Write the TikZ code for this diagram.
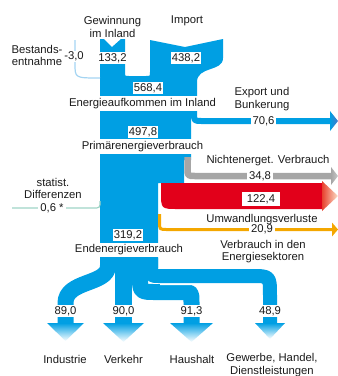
\documentclass[tikz,border=0pt]{standalone}
\usepackage{fontspec}
\setmainfont{Liberation Sans}
\definecolor{eblue}{HTML}{009FE3}
\definecolor{egray}{HTML}{A6A6A6}
\definecolor{ered}{HTML}{E2001A}
\definecolor{eorange}{HTML}{F4A700}
\definecolor{eteal}{HTML}{9ED4C6}
\definecolor{elblue}{HTML}{A4D4F2}
\definecolor{etext}{HTML}{1A1A1A}
\definecolor{ebluedark}{HTML}{4A78C8}
\definecolor{eredhead}{HTML}{E8412E}
\definecolor{epeach}{HTML}{FCE0C8}
\begin{document}
\begin{tikzpicture}[x=1pt,y=-1pt,
  lab/.style={font=\fontsize{11.3}{12.5}\selectfont, text=etext, align=center, inner sep=1pt},
  num/.style={lab, fill=white, inner sep=1pt},
  bandline/.style={line cap=butt, line join=round},
  txtband/.style={lab, fill=white, inner sep=2pt}
]
\useasboundingbox (0,0) rectangle (338,376);

% trunk
\fill[eblue] (100,39) -- (104,39) -- (112,47) -- (121,39) -- (125,39) -- (125,72)
  .. controls (125,76) .. (129,76) -- (146,76) .. controls (150,76) .. (150,72)
  -- (150,40) -- (185,47) -- (223,39) -- (223,58)
  .. controls (223,72) and (197,66) .. (197,82) -- (197,108) -- (191,108)
  -- (191,160) -- (184,160) -- (184,183) -- (158,183) -- (158,268) -- (100,268) -- cycle;

% export
\draw[eblue, line width=6, bandline] (194,100) -- (194,113) .. controls (194,121) .. (202,121) -- (331,121);
\shade[left color=eblue, right color=ebluedark] (330,111) -- (338,121) -- (330,131) -- cycle;

% non-energetic
\draw[egray, line width=6.5, bandline] (187.5,157) -- (187.5,168) .. controls (187.5,176) .. (195.5,176) -- (332,176);
\shade[left color=egray, right color=egray!60] (331,167) -- (338,176) -- (331,185) -- cycle;

% conversion losses
\fill[ered] (161,183) -- (323,183) -- (323,209) -- (178,209) .. controls (161,209) .. (161,192) -- cycle;
\shade[left color=eredhead, right color=epeach] (322,181) -- (338,196) -- (322,211) -- cycle;

% energy sector
\draw[eorange, line width=3, bandline] (159.5,214) -- (159.5,222) .. controls (159.5,229.5) .. (167,229.5) -- (333,229.5);
\fill[eorange] (332,222.5) -- (338,229.5) -- (332,236.5) -- cycle;

% statistical differences and stock withdrawal
\draw[eteal, line width=1.2] (12,208) -- (93,208) .. controls (100,208) .. (100,201);
\draw[elblue, line width=1.2] (75,40) -- (75,64) .. controls (75,78) .. (100,78);

% final consumption branches
\draw[eblue, line width=16, bandline] (108,258) -- (108,266) .. controls (108,285) and (65.5,280) .. (65.5,303) -- (65.5,323.5);
\draw[eblue, line width=17, bandline] (123.5,258) -- (123.5,323.5);
\draw[eblue, line width=16, bandline] (140,258) -- (140,276) .. controls (140,292) .. (156,292) -- (182,292) .. controls (191.5,292) .. (191.5,302) -- (191.5,323.5);
\draw[white, line width=18, bandline] (160,276) -- (251,276) .. controls (270,276) .. (270,295);
\draw[eblue, line width=14, bandline] (151,258) -- (151,268) .. controls (151,276) .. (159,276) -- (251,276) .. controls (270,276) .. (270,295) -- (270,323.5);

\shade[top color=eblue, bottom color=white] (47,323) -- (84,323) -- (65.5,341) -- cycle;
\shade[top color=eblue, bottom color=white] (103,323) -- (144,323) -- (123.5,342) -- cycle;
\shade[top color=eblue, bottom color=white] (170,323) -- (213,323) -- (191.5,342) -- cycle;
\shade[top color=eblue, bottom color=white] (255,323) -- (285,323) -- (270,339) -- cycle;

% labels
\node[lab] (gew) at (112.5,27) {Gewinnung\\im Inland};
\node[lab] (imp) at (187,21) {Import};
\node[lab] (best) at (37,55.5) {Bestands-\\entnahme};
\node[num] (n30) at (74,56.5) {-3,0};
\node[num] (n133) at (112.5,58) {133,2};
\node[num] (n438) at (186,58) {438,2};
\node[num] (n568) at (148,88) {568,4};
\node[txtband] (eai) at (142.5,103.5) {Energieaufkommen im Inland};
\node[lab] (exp) at (262,99) {Export und\\Bunkerung};
\node[num, inner xsep=2pt] (n706) at (263.5,121) {70,6};
\node[num] (n497) at (143,132) {497,8};
\node[txtband] (pev) at (142.5,146.5) {Primärenergieverbrauch};
\node[lab] (nev) at (268,161) {Nichtenerget. Verbrauch};
\node[num, inner xsep=2pt] (n348) at (260,176) {34,8};
\node[num, inner xsep=5pt, inner ysep=2pt] (n1224) at (261,199) {122,4};
\node[lab] (uwv) at (262,219.5) {Umwandlungsverluste};
\node[num, inner xsep=2pt] (n209) at (262,229.5) {20,9};
\node[lab] (vie) at (263,251.5) {Verbrauch in den\\Energiesektoren};
\node[lab] (stat) at (53,188.5) {statist.\\Differenzen};
\node[num, inner xsep=2pt] (n06) at (52,208.5) {0,6 *};
\node[num] (n319) at (128,235) {319,2};
\node[txtband] (eev) at (129,250) {Endenergieverbrauch};
\node[num] (n890) at (65.5,311) {89,0};
\node[num] (n900) at (123.5,311) {90,0};
\node[num] (n913) at (191.5,311) {91,3};
\node[num] (n489) at (270,311) {48,9};
\node[lab] (ind) at (65,359) {Industrie};
\node[lab] (ver) at (123.5,359) {Verkehr};
\node[lab] (hau) at (192,359) {Haushalt};
\node[lab] (gwb) at (272,365) {Gewerbe, Handel,\\Dienstleistungen};
\end{tikzpicture}
\end{document}
